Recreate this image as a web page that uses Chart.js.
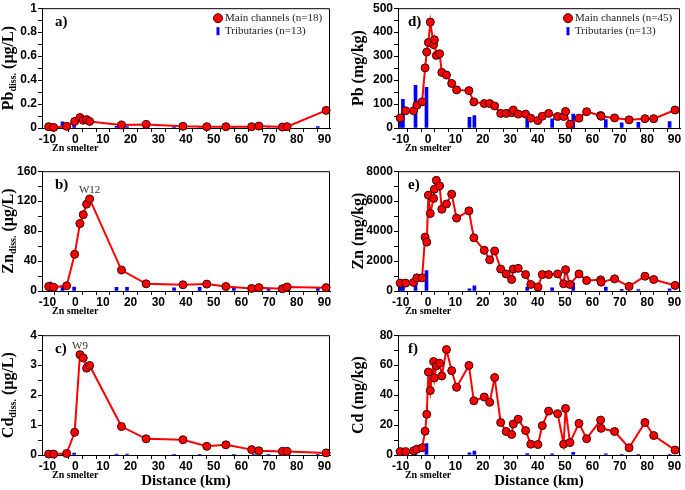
<!DOCTYPE html>
<html>
<head>
<meta charset="utf-8">
<script src="https://cdn.jsdelivr.net/npm/chart.js@4"></script>
<style>
  body { margin: 0; background: #fff; }
  #wrap { position: relative; width: 685px; height: 490px; overflow: hidden; }
  canvas { position: absolute; }
</style>
</head>
<body>
<div id="wrap">
  <canvas id="pa" width="340" height="163" style="left:0;top:0"></canvas>
  <canvas id="pb" width="340" height="163" style="left:0;top:163px"></canvas>
  <canvas id="pc" width="340" height="163" style="left:0;top:327px"></canvas>
  <canvas id="pd" width="340" height="163" style="left:345px;top:0"></canvas>
  <canvas id="pe" width="340" height="163" style="left:345px;top:163px"></canvas>
  <canvas id="pf" width="340" height="163" style="left:345px;top:327px"></canvas>
</div>
<script>
    // distance along the river (km), water samples
    const waterKm = [-9.6, -7.8, -3.1, -0.2, 1.7, 2.9, 4.1, 5.2, 16.7, 25.6, 38.9, 47.5, 54.4, 63.7, 66.3, 74.8, 76.5, 90.6];
    const pbDiss = [0.011, 0.005, 0.014, 0.055, 0.087, 0.065, 0.07, 0.055, 0.025, 0.03, 0.014, 0.011, 0.011, 0.011, 0.016, 0.008, 0.011, 0.147];
    const znDiss = [6, 5, 7, 49, 90, 102, 116, 123, 28, 9.6, 8.3, 9.2, 6, 3.5, 4.4, 3, 5.2, 4.4];
    const cdDiss = [0.03, 0.03, 0.05, 0.76, 3.35, 3.24, 2.9, 2.99, 0.95, 0.54, 0.51, 0.29, 0.34, 0.18, 0.14, 0.12, 0.12, 0.07];

    const tribWaterKm = [-9.5, -9.0, -4.6, -0.4, 14.9, 18.7, 35.7, 44.9, 57.3, 64.5, 69.8, 75.5, 87.6];
    const tribPbDiss = [0.008, 0.01, 0.052, 0.038, 0.014, 0.011, 0.011, 0.004, 0.004, 0.004, 0.004, 0.004, 0.011];
    const tribZnDiss = [6, 11.8, 7.4, 5.2, 4.8, 4.8, 4.4, 4.8, 4.4, 3, 3, 3, 4];
    const tribCdDiss = [0.02, 0.03, 0.04, 0.06, 0.03, 0.03, 0.02, 0.02, 0.02, 0.03, 0.02, 0.02, 0.02];

    // sediment samples
    const sedKm = [-10.2, -8.2, -5.3, -4.1, -2.2, -1.1, -0.5, 0.1, 0.8, 2.0, 2.3, 3.0, 4.2, 5.0, 6.7, 8.6, 10.4, 14.9, 16.7, 20.5, 22.5, 24.3, 26.5, 28.5, 30.5, 31.1, 32.9, 35.6, 37.5, 40.1, 41.7, 44.0, 47.3, 49.5, 50.2, 51.8, 55.1, 57.9, 63.0, 63.2, 68.1, 73.4, 79.2, 82.4, 90.2];
    const pbSed = [42, 72, 72, 95, 109, 251, 317, 357, 442, 348, 368, 303, 310, 232, 221, 186, 159, 156, 109, 102, 102, 92, 61, 61, 64, 75, 58, 58, 41, 31, 49, 61, 48, 48, 69, 15, 41, 68, 52, 49, 42, 34, 39, 39, 75];
    const znSed = [526, 526, 570, 877, 877, 3596, 3268, 6400, 5175, 6184, 6798, 7390, 7018, 5460, 5811, 6469, 4868, 5351, 3553, 2719, 2083, 2675, 1469, 1140, 767, 1469, 1513, 1096, 438, 263, 1096, 1096, 1140, 482, 1425, 438, 1140, 702, 745, 592, 811, 307, 987, 767, 373];
    const cdSed = [2.2, 2.2, 2.8, 3.9, 4.8, 15.9, 27.2, 55.4, 43, 62.4, 51.5, 59.6, 61.3, 52.8, 70.4, 56.3, 45.2, 59.8, 36.2, 38.7, 35.2, 51.7, 21.7, 15.7, 13.7, 20.7, 23.9, 16.3, 7.2, 7, 19.6, 29.3, 27.6, 7.2, 31.1, 8.3, 21.1, 10.9, 23.3, 17.8, 15.7, 4.8, 21.7, 13, 3.3];

    const tribSedKm = [-10, -9.2, -4.6, -0.6, 15.1, 16.9, 36.2, 45.3, 53, 64.9, 70.7, 76.8, 88.2];
    const tribPbSed = [40, 120, 178, 170, 45, 52, 38, 38, 58, 35, 22, 24, 27];
    const tribZnSed = [480, 480, 590, 1360, 150, 350, 260, 220, 550, 260, 110, 90, 150];
    const tribCdSed = [1, 1, 2.5, 7.6, 1.5, 2.6, 1, 0.8, 1.7, 0.8, 0.5, 0.5, 0.5];

    // tick labels
    const xTicks = [-10, 0, 10, 20, 30, 40, 50, 60, 70, 80, 90];
    const yTicksA = [0, 0.2, 0.4, 0.6, 0.8, 1];
    const yTicksB = [0, 40, 80, 120, 160];
    const yTicksC = [0, 1, 2, 3, 4];
    const yTicksD = [0, 100, 200, 300, 400, 500];
    const yTicksE = [0, 2000, 4000, 6000, 8000];
    const yTicksF = [0, 20, 40, 60, 80];

    const SERIF = '"Liberation Serif", "Times New Roman", serif';
    const SANS = '"Liberation Sans", Arial, sans-serif';

    // major ticks plus a minor tick half way between each pair
    function withMinor(major) {
        const out = [];
        major.forEach((v, i) => {
            out.push(v);
            if (i < major.length - 1) out.push((v + major[i + 1]) / 2);
        });
        return out;
    }

    const panelPlugin = {
        id: 'panel',
        afterDraw(chart, args, o) {
            const { ctx, chartArea: a, scales: { x } } = chart;
            ctx.save();
            // frame top + right
            ctx.strokeStyle = '#000';
            ctx.lineWidth = 1;
            ctx.beginPath();
            ctx.moveTo(a.left, a.top + 0.5);
            ctx.lineTo(a.right - 0.5, a.top + 0.5);
            ctx.lineTo(a.right - 0.5, a.bottom);
            ctx.stroke();

            ctx.fillStyle = '#000';
            // panel letter
            ctx.font = 'bold 15px ' + SERIF;
            ctx.textAlign = 'left';
            ctx.textBaseline = 'alphabetic';
            ctx.fillText(o.label, a.left + o.labelDx, a.top + 18);

            // rotated y title with subscript
            const f1 = 'bold 16px ' + SERIF, f2 = 'bold 10px ' + SERIF;
            ctx.font = f1;
            const w1 = ctx.measureText(o.title[0]).width, w3 = ctx.measureText(o.title[2]).width;
            ctx.font = f2;
            const w2 = o.title[1] ? ctx.measureText(o.title[1]).width : 0;
            ctx.save();
            ctx.translate(o.titleX, (a.top + a.bottom) / 2);
            ctx.rotate(-Math.PI / 2);
            ctx.textBaseline = 'middle';
            let px = -(w1 + w2 + w3) / 2;
            ctx.font = f1; ctx.fillText(o.title[0], px, 0); px += w1;
            ctx.font = f2; ctx.fillText(o.title[1], px, 4); px += w2;
            ctx.font = f1; ctx.fillText(o.title[2], px, 0);
            ctx.restore();

            // Zn smelter under x=0
            ctx.font = 'bold 10px ' + SERIF;
            ctx.textAlign = 'center';
            ctx.textBaseline = 'middle';
            ctx.fillText('Zn smelter', x.getPixelForValue(0), a.bottom + 20);

            if (o.distance) {
                ctx.font = 'bold 15px ' + SERIF;
                ctx.fillText('Distance (km)', (a.left + a.right) / 2, a.bottom + 26);
            }

            if (o.legend) {
                const lx = a.right - 112, ly = a.top + 10;
                ctx.beginPath();
                ctx.arc(lx, ly, 4.5, 0, Math.PI * 2);
                ctx.fillStyle = '#ff0000';
                ctx.fill();
                ctx.strokeStyle = '#400000';
                ctx.stroke();
                ctx.fillStyle = '#0000ff';
                ctx.fillRect(lx - 1.5, ly + 9, 3, 8);
                ctx.fillStyle = '#222';
                ctx.font = '11px ' + SERIF;
                ctx.textAlign = 'left';
                ctx.fillText(o.legend[0], lx + 7, ly);
                ctx.fillText(o.legend[1], lx + 7, ly + 13);
            }

            if (o.note) {
                const pt = chart.getDatasetMeta(0).data[o.note[1]];
                ctx.fillStyle = '#333';
                ctx.font = '11px ' + SERIF;
                ctx.textAlign = 'center';
                ctx.textBaseline = 'alphabetic';
                ctx.fillText(o.note[0], pt.x, pt.y - 6);
            }
            ctx.restore();
        }
    };

    function makePanel(id, opt) {
        const tickFont = { family: SANS, size: 12, weight: 'bold' };
        const xVals = withMinor(xTicks);
        const yVals = withMinor(opt.yTicks);
        return new Chart(document.getElementById(id), {
            type: 'line',
            data: {
                datasets: [{
                    type: 'line',
                    data: opt.km.map((v, i) => ({ x: v, y: opt.vals[i] })),
                    borderColor: '#ff0000',
                    borderWidth: 2,
                    pointRadius: 4,
                    pointBackgroundColor: '#ff0000',
                    pointBorderColor: '#3a0000',
                    pointBorderWidth: 1,
                    tension: 0,
                    clip: false,
                    order: 1
                }, {
                    type: 'bar',
                    data: opt.tribKm.map((v, i) => ({ x: v, y: opt.tribVals[i] })),
                    backgroundColor: '#0000ff',
                    barThickness: 3,
                    order: 2
                }]
            },
            options: {
                responsive: false,
                animation: false,
                layout: { padding: { top: 5, right: opt.padRight, left: 0, bottom: 0 } },
                plugins: {
                    legend: { display: false },
                    tooltip: { enabled: false },
                    panel: opt.panel
                },
                scales: {
                    x: {
                        type: 'linear', min: opt.xMin, max: opt.xMax, offset: false,
                        afterBuildTicks: s => { s.ticks = xVals.map(v => ({ value: v })); },
                        afterFit: s => { s.height = 35; },
                        grid: { display: true, drawOnChartArea: false, tickLength: 4, color: '#000' },
                        border: { display: true, color: '#000', width: 1 },
                        ticks: {
                            autoSkip: false, maxRotation: 0, padding: 0, color: '#000', font: tickFont,
                            callback: (v, i) => (i % 2 === 0 ? String(xTicks[i / 2]) : '')
                        }
                    },
                    y: {
                        type: 'linear', min: 0, max: opt.yTicks[opt.yTicks.length - 1],
                        afterBuildTicks: s => { s.ticks = yVals.map(v => ({ value: v })); },
                        afterFit: s => { s.width = opt.yWidth; },
                        grid: { display: true, drawOnChartArea: false, tickLength: 4, color: '#000' },
                        border: { display: true, color: '#000', width: 1 },
                        ticks: {
                            autoSkip: false, padding: 1, color: '#000', font: tickFont,
                            callback: (v, i) => (i % 2 === 0 ? String(opt.yTicks[i / 2]) : '')
                        }
                    }
                }
            },
            plugins: [panelPlugin]
        });
    }

    const left = { xMin: -12, xMax: 92, padRight: 10, yWidth: 42 };
    const right = { xMin: -11, xMax: 92, padRight: 2, yWidth: 53 };

    makePanel('pa', Object.assign({}, left, {
        km: waterKm, vals: pbDiss, tribKm: tribWaterKm, tribVals: tribPbDiss, yTicks: yTicksA,
        panel: { label: 'a)', labelDx: 13, title: ['Pb', 'diss.', ' (µg/L)'], titleX: 9,
                 legend: ['Main channels (n=18)', 'Tributaries (n=13)'] }
    }));
    makePanel('pb', Object.assign({}, left, {
        km: waterKm, vals: znDiss, tribKm: tribWaterKm, tribVals: tribZnDiss, yTicks: yTicksB,
        panel: { label: 'b)', labelDx: 13, title: ['Zn', 'diss.', ' (µg/L)'], titleX: 9, note: ['W12', 7] }
    }));
    makePanel('pc', Object.assign({}, left, {
        km: waterKm, vals: cdDiss, tribKm: tribWaterKm, tribVals: tribCdDiss, yTicks: yTicksC,
        panel: { label: 'c)', labelDx: 13, title: ['Cd', 'diss.', ' (µg/L)'], titleX: 9, note: ['W9', 4], distance: true }
    }));
    makePanel('pd', Object.assign({}, right, {
        km: sedKm, vals: pbSed, tribKm: tribSedKm, tribVals: tribPbSed, yTicks: yTicksD,
        panel: { label: 'd)', labelDx: 10, title: ['Pb', '', ' (mg/kg)'], titleX: 14,
                 legend: ['Main channels (n=45)', 'Tributaries (n=13)'] }
    }));
    makePanel('pe', Object.assign({}, right, {
        km: sedKm, vals: znSed, tribKm: tribSedKm, tribVals: tribZnSed, yTicks: yTicksE,
        panel: { label: 'e)', labelDx: 10, title: ['Zn', '', ' (mg/kg)'], titleX: 14 }
    }));
    makePanel('pf', Object.assign({}, right, {
        km: sedKm, vals: cdSed, tribKm: tribSedKm, tribVals: tribCdSed, yTicks: yTicksF,
        panel: { label: 'f)', labelDx: 10, title: ['Cd', '', ' (mg/kg)'], titleX: 14, distance: true }
    }));
</script>
</body>
</html>
